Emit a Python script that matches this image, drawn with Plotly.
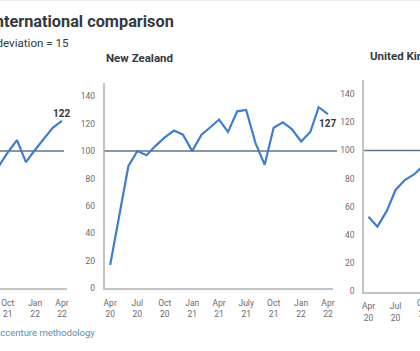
import plotly.graph_objects as go

# ---- data ----
nz_dates = ["2020-04-01", "2020-05-01", "2020-06-01", "2020-07-01", "2020-08-01", "2020-09-01",
            "2020-10-01", "2020-11-01", "2020-12-01", "2021-01-01", "2021-02-01", "2021-03-01",
            "2021-04-01", "2021-05-01", "2021-06-01", "2021-07-01", "2021-08-01", "2021-09-01",
            "2021-10-01", "2021-11-01", "2021-12-01", "2022-01-01", "2022-02-01", "2022-03-01",
            "2022-04-01"]
nz_values = [17, 53, 89, 100, 97, 104, 110, 115, 112, 100, 112, 117,
             123, 114, 129, 130, 106, 90, 117, 121, 116, 107, 114, 132, 127]

left_dates = ["2021-09-01", "2021-10-01", "2021-11-01", "2021-12-01", "2022-01-01",
              "2022-02-01", "2022-03-01", "2022-04-01"]
left_values = [89, 99, 108, 92, 101, 109, 117, 122]

uk_dates = ["2020-04-01", "2020-05-01", "2020-06-01", "2020-07-01", "2020-08-01",
            "2020-09-01", "2020-10-01"]
uk_values = [53, 46, 57, 72, 79, 83, 89]

tick_dates = ["2020-04-01", "2020-07-01", "2020-10-01", "2021-01-01", "2021-04-01",
              "2021-07-01", "2021-10-01", "2022-01-01", "2022-04-01"]
nz_tick_labels = ["Apr<br>20", "Jul<br>20", "Oct<br>20", "Jan<br>21", "Apr<br>21",
                  "July<br>21", "Oct<br>21", "Jan<br>22", "Apr<br>22"]
std_tick_labels = ["Apr<br>20", "Jul<br>20", "Oct<br>20", "Jan<br>21", "Apr<br>21",
                   "Jul<br>21", "Oct<br>21", "Jan<br>22", "Apr<br>22"]
y_ticks = [0, 20, 40, 60, 80, 100, 120, 140]
baseline = 100

title = "International comparison"
subtitle = "Standard deviation = 15"
source = "Source: Accenture methodology"

# ---- styling ----
W, H = 420, 351
FONT = "Roboto"
LINE = "#3d7fcc"
BASE = "#5f7584"
AXIS = "#c4c4c4"
TICK = "#6b6b6b"
DARK = "#333a40"
TSIZE = 8.5

def px(x):
    return x / W

def py(y):
    return 1 - y / H

fig = go.Figure()

fig.add_trace(go.Scatter(x=left_dates, y=left_values, mode="lines", xaxis="x", yaxis="y",
                         line=dict(color=LINE, width=2.2), showlegend=False, hoverinfo="skip"))
fig.add_trace(go.Scatter(x=nz_dates, y=nz_values, mode="lines", xaxis="x2", yaxis="y2",
                         line=dict(color=LINE, width=2.2), showlegend=False, hoverinfo="skip"))
fig.add_trace(go.Scatter(x=uk_dates, y=uk_values, mode="lines", xaxis="x3", yaxis="y3",
                         line=dict(color=LINE, width=2.2), showlegend=False, hoverinfo="skip"))

xcommon = dict(type="date", showgrid=False, zeroline=False, showline=True, linecolor=AXIS,
               linewidth=1.5, tickvals=tick_dates, ticks="", ticklabelstandoff=6,
               automargin=False,
               tickfont=dict(family=FONT, size=TSIZE, color=TICK), fixedrange=True)
ycommon = dict(range=[0, 150], showgrid=False, zeroline=False, showline=True, linecolor=AXIS,
               linewidth=1.5, tickvals=y_ticks, ticks="", ticklabelstandoff=6,
               automargin=False,
               tickfont=dict(family=FONT, size=TSIZE, color=TICK), fixedrange=True)

fig.update_layout(
    width=W, height=H,
    margin=dict(l=0, r=0, t=0, b=0, autoexpand=False),
    paper_bgcolor="white", plot_bgcolor="white",
    xaxis=dict(xcommon, domain=[0, px(67)], range=["2021-09-05", "2022-04-18"],
               ticktext=std_tick_labels, anchor="y"),
    yaxis=dict(ycommon, domain=[py(288.3), py(82.5)], anchor="x", showticklabels=False),
    xaxis2=dict(xcommon, domain=[px(104.5), px(333)], range=["2020-03-13", "2022-04-18"],
                ticktext=nz_tick_labels, anchor="y2"),
    yaxis2=dict(ycommon, domain=[py(288.3), py(82.5)], anchor="x2"),
    xaxis3=dict(xcommon, domain=[px(364), 1], range=["2020-03-17", "2020-09-21"],
                ticktext=std_tick_labels, anchor="y3"),
    yaxis3=dict(ycommon, domain=[py(291.5), py(80)], anchor="x3"),
)

# baseline (mean = 100) lines
fig.add_shape(type="line", xref="paper", yref="y", x0=0, x1=px(64), y0=baseline, y1=baseline,
              line=dict(color=BASE, width=1.5))
fig.add_shape(type="line", xref="paper", yref="y2", x0=px(104.5), x1=px(337), y0=baseline, y1=baseline,
              line=dict(color=BASE, width=1.5))
fig.add_shape(type="line", xref="paper", yref="y3", x0=px(364), x1=1, y0=baseline, y1=baseline,
              line=dict(color=BASE, width=1.5))
# faint top border
fig.add_shape(type="line", xref="paper", yref="paper", x0=0, x1=1, y0=py(0.5), y1=py(0.5),
              line=dict(color="#eeeeee", width=1))

# end-value labels
fig.add_annotation(x=left_dates[-1], y=left_values[-1], xref="x", yref="y",
                   text="<b>%d</b>" % left_values[-1], showarrow=False, yshift=7,
                   font=dict(family=FONT, size=10, color=DARK))
fig.add_annotation(x=nz_dates[-1], y=nz_values[-1], xref="x2", yref="y2",
                   text="<b>%d</b>" % nz_values[-1], showarrow=False, yshift=-9,
                   font=dict(family=FONT, size=10, color=DARK))

# partially visible "Oct 20" tick label at the right edge of the UK panel
fig.add_annotation(x=px(423.5), y=py(296), xref="paper", yref="paper",
                   xanchor="center", yanchor="top",
                   text=std_tick_labels[2], showarrow=False,
                   font=dict(family=FONT, size=TSIZE, color=TICK))

# panel titles
fig.add_annotation(x=px(104), y=py(58), xref="paper", yref="paper", xanchor="left", yanchor="middle",
                   text="<b>New Zealand</b>", showarrow=False,
                   font=dict(family=FONT, size=11.5, color=DARK))
fig.add_annotation(x=px(368), y=py(56), xref="paper", yref="paper", xanchor="left", yanchor="middle",
                   text="<b>United Kingdom</b>", showarrow=False,
                   font=dict(family=FONT, size=11.5, color=DARK))

# chart title, subtitle, source (cropped on the left)
fig.add_annotation(x=px(176), y=py(21), xref="paper", yref="paper", xanchor="right", yanchor="middle",
                   text="<b>%s</b>" % title, showarrow=False,
                   font=dict(family=FONT, size=16.3, color=DARK))
fig.add_annotation(x=px(71), y=py(43), xref="paper", yref="paper", xanchor="right", yanchor="middle",
                   text=subtitle, showarrow=False,
                   font=dict(family=FONT, size=11.6, color=DARK))
fig.add_annotation(x=px(97), y=py(332.5), xref="paper", yref="paper", xanchor="right", yanchor="middle",
                   text=source, showarrow=False,
                   font=dict(family=FONT, size=9.5, color="#5b8fa3"))

fig.write_html("out.html", config=dict(displayModeBar=False))
